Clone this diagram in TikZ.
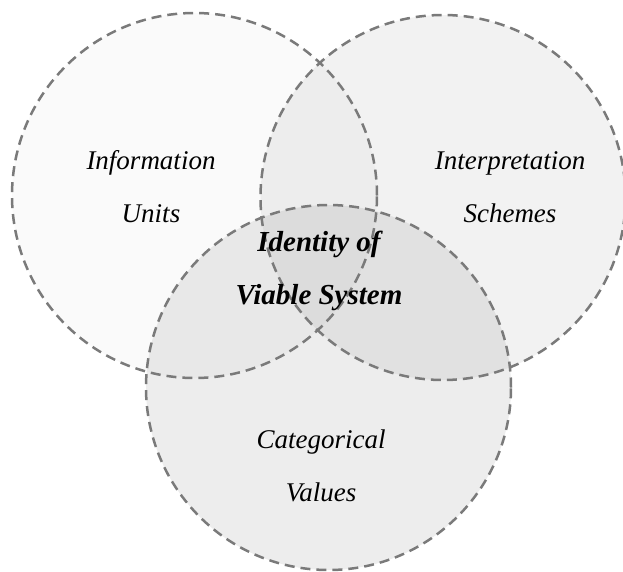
\documentclass[tikz,border=0pt]{standalone}
\usepackage{fontspec}
\setmainfont{Liberation Serif}[ItalicFont={Liberation Serif Italic}, BoldItalicFont={Liberation Serif Bold Italic}]
\begin{document}
\begin{tikzpicture}[x=1pt,y=-1pt,
  venn/.style={circle, inner sep=0pt, minimum size=365pt, draw=none},
  vennline/.style={circle, inner sep=0pt, minimum size=365pt, draw=black!52, line width=2.5pt, dash pattern=on 10pt off 6pt},
  lbl/.style={align=center, font=\fontsize{27}{53}\selectfont\itshape, inner sep=0pt},
  blbl/.style={lbl, font=\fontsize{29}{53}\selectfont\bfseries\itshape}]
\useasboundingbox (0,0) rectangle (623,571);
% fills
\node[venn, fill=black, fill opacity=0.02] (A) at (194.5,195.5) {};
\node[venn, fill=black, fill opacity=0.05] (B) at (443,197.5) {};
\node[venn, fill=black, fill opacity=0.07] (C) at (328.5,387.5) {};
% outlines
\node[vennline] (Ao) at (A) {};
\node[vennline] (Bo) at (B) {};
\node[vennline] (Co) at (C) {};
% labels
\node[lbl] (la) at (151,187) {\itshape Information\\\itshape Units};
\node[lbl] (lb) at (510,187) {\itshape Interpretation\\\itshape Schemes};
\node[blbl] (lm) at (319,271) {Identity of\\Viable System};
\node[lbl] (lc) at (321,466) {\itshape Categorical\\\itshape Values};
\end{tikzpicture}
\end{document}
